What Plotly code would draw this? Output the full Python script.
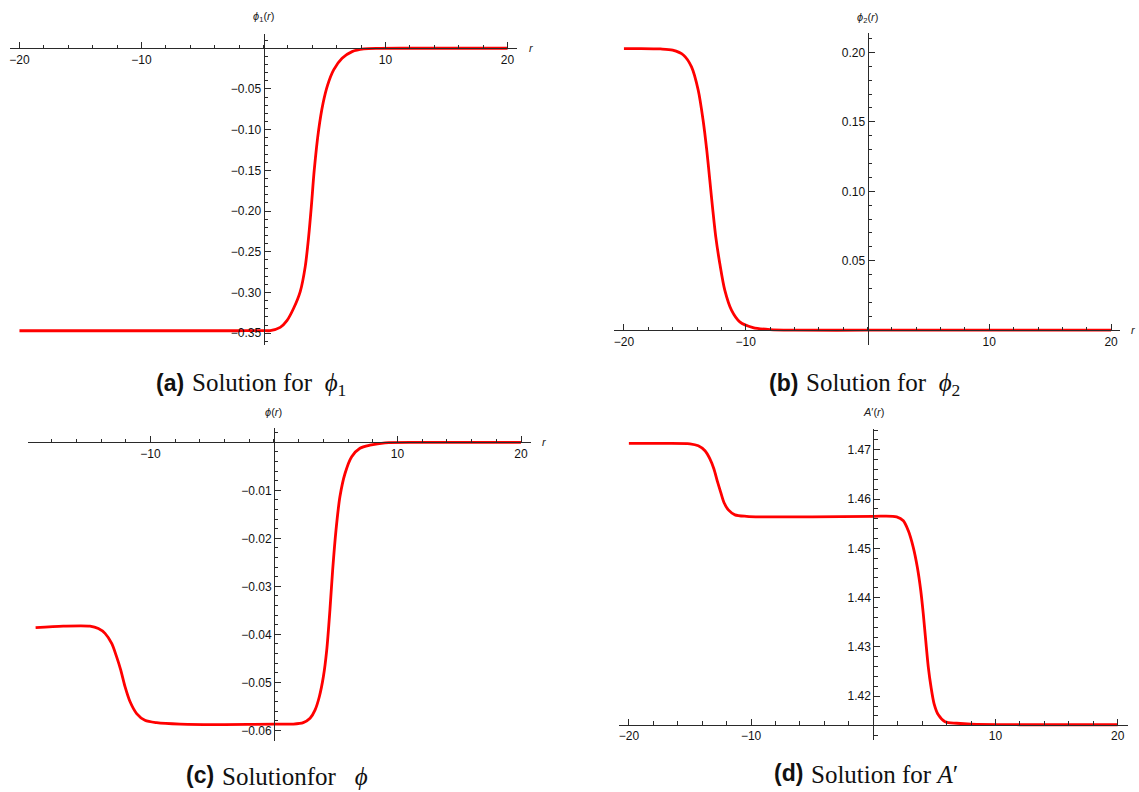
import plotly.graph_objects as go

# ---------------- data ----------------
r_a = [-20, -15, -10, -5, -2, -1, 0, 0.55, 1.37, 1.92, 2.47, 3.01, 3.42, 3.70, 3.92,
       4.16, 4.52, 4.88, 5.26, 5.75, 6.44, 7.26, 8.22, 9.5, 12, 15, 20]
phi1 = [-0.347, -0.347, -0.347, -0.347, -0.3470, -0.3469, -0.3469, -0.3468, -0.3428,
        -0.3346, -0.3194, -0.2989, -0.2682, -0.2314, -0.1945, -0.1495, -0.1003, -0.0676,
        -0.0450, -0.0266, -0.0123, -0.0041, -0.0008, -0.0001, 0, 0, 0]

r_b = [-20, -18.7, -17, -16, -15.1, -14.45, -13.9, -13.5, -13.2, -12.95, -12.73, -12.46,
       -12.13, -11.72, -11.17, -10.49, -9.4, -8.0, -6, 0, 10, 20]
phi2 = [0.2028, 0.2028, 0.2025, 0.2016, 0.1980, 0.1896, 0.1728, 0.1512, 0.1296, 0.1080,
        0.0888, 0.0672, 0.0480, 0.0288, 0.0144, 0.0060, 0.0019, 0.0004, 0.0, 0, 0, 0]

r_c = [-19.3, -17.06, -14.9, -14.22, -13.68, -13.14, -12.74, -12.41, -12.06, -11.66,
       -11.12, -10.45, -9.5, -7.6, -4, 0, 1.57, 2.37, 2.92, 3.32, 3.67, 4.0, 4.27, 4.53,
       4.75, 5.02, 5.34, 5.75, 6.29, 6.96, 7.77, 9, 12, 20]
phi = [-0.0386, -0.0383, -0.0383, -0.0388, -0.0398, -0.0419, -0.0447, -0.0474, -0.0509,
       -0.0540, -0.0565, -0.0579, -0.0584, -0.0587, -0.0588, -0.0587, -0.0587, -0.0584,
       -0.0575, -0.0558, -0.0530, -0.0488, -0.0433, -0.0349, -0.0266, -0.0183, -0.0113,
       -0.0065, -0.0030, -0.00125, -0.0006, -0.0001, 0, 0]

r_d = [-20, -17, -15.0, -14.32, -13.77, -13.36, -13.04, -12.77, -12.49, -12.22, -11.86,
       -11.32, -10.36, -9.27, -5, 0, 1.91, 2.46, 2.86, 3.27, 3.60, 3.88, 4.09, 4.29, 4.50,
       4.72, 4.97, 5.32, 5.87, 6.82, 8, 12, 20]
Aprime = [1.4713, 1.4713, 1.4712, 1.4708, 1.4698, 1.4681, 1.4661, 1.4637, 1.4614, 1.4593,
          1.4578, 1.4568, 1.4565, 1.4564, 1.4564, 1.4565, 1.4564, 1.4556, 1.4536, 1.4502,
          1.4462, 1.4415, 1.4367, 1.4313, 1.4259, 1.4219, 1.4185, 1.4162, 1.4148, 1.4145,
          1.4143, 1.4142, 1.4142]

x_ticks = [-20, -10, 10, 20]
y_ticks_a = [-0.35, -0.30, -0.25, -0.20, -0.15, -0.10, -0.05]
y_ticks_b = [0.05, 0.10, 0.15, 0.20]
y_ticks_c = [-0.06, -0.05, -0.04, -0.03, -0.02, -0.01]
y_ticks_d = [1.42, 1.43, 1.44, 1.45, 1.46, 1.47]

ylabels = ["<i>ϕ</i><sub>1</sub>(<i>r</i>)", "<i>ϕ</i><sub>2</sub>(<i>r</i>)",
           "<i>ϕ</i>(<i>r</i>)", "<i>A</i>′(<i>r</i>)"]
caption_tags = ["(a)", "(b)", "(c)", "(d)"]
caption_texts = ["Solution for\u00a0\u00a0<i>ϕ</i><sub>1</sub>",
                 "Solution for\u00a0\u00a0<i>ϕ</i><sub>2</sub>",
                 "Solutionfor\u00a0\u00a0\u00a0<i>ϕ</i>",
                 "Solution for\u00a0<i>A</i>′"]

# ---------------- layout geometry (pixels) ----------------
W, H = 1139, 792
panels = [
    dict(xr=[-20.8, 20.8], xpx=[9.7, 517.3], yr=[-0.365, 0.018], ypx=[345.4, 33.6],
         ycross=0.0, yt=y_ticks_a, ydt=0.01, ylab_y=17, rlab=True, tag_end=186, cap_y=383),
    dict(xr=[-20.8, 20.7], xpx=[614.2, 1119.6], yr=[-0.0106, 0.214], ypx=[344.9, 33.0],
         ycross=0.0, yt=y_ticks_b, ydt=0.01, ylab_y=18, rlab=True, tag_end=800, cap_y=383),
    dict(xr=[-19.9, 20.8], xpx=[28.2, 530.9], yr=[-0.0622, 0.0029], ypx=[740.9, 428.4],
         ycross=0.0, yt=y_ticks_c, ydt=0.002, ylab_y=412, rlab=True, tag_end=216, cap_y=775),
    dict(xr=[-20.8, 20.8], xpx=[619.1, 1127.5], yr=[1.4111, 1.4743], ypx=[740.0, 428.6],
         ycross=1.4142, yt=y_ticks_d, ydt=0.002, ylab_y=412, rlab=False, tag_end=805, cap_y=773),
]
series = [(r_a, phi1), (r_b, phi2), (r_c, phi), (r_d, Aprime)]

fig = go.Figure()
annotations = []
axis_col = "#2a2a2a"
sans = "Liberation Sans, Arial, sans-serif"
serif = "Liberation Serif, Times New Roman, serif"
tick_font = dict(family=sans, size=12, color="#111111")

for i, p in enumerate(panels):
    n = "" if i == 0 else str(i + 1)
    xs, ys = series[i]
    xd = [p["xpx"][0] / W, p["xpx"][1] / W]
    yd = [1 - p["ypx"][0] / H, 1 - p["ypx"][1] / H]
    x0_frac = xd[0] + (0 - p["xr"][0]) / (p["xr"][1] - p["xr"][0]) * (xd[1] - xd[0])
    y0_frac = yd[0] + (p["ycross"] - p["yr"][0]) / (p["yr"][1] - p["yr"][0]) * (yd[1] - yd[0])

    fig.add_trace(go.Scatter(x=xs, y=ys, mode="lines",
                             line=dict(color="#ff0000", width=2.8, shape="spline", smoothing=0.8),
                             xaxis="x" + n, yaxis="y" + n, showlegend=False, hoverinfo="skip"))

    fig.layout["xaxis" + n] = dict(
        domain=xd, range=p["xr"], anchor="free", position=y0_frac,
        showline=True, linecolor=axis_col, linewidth=1, showgrid=False, zeroline=False,
        ticks="inside", ticklen=6, tickwidth=1, tickcolor=axis_col,
        tickmode="array", tickvals=x_ticks, tickfont=tick_font,
        minor=dict(ticks="inside", ticklen=3.5, tickwidth=1, tickcolor=axis_col,
                   tickmode="linear", tick0=0, dtick=2, showgrid=False),
        fixedrange=True,
    )
    fig.layout["yaxis" + n] = dict(
        domain=yd, range=p["yr"], anchor="free", position=x0_frac,
        showline=True, linecolor=axis_col, linewidth=1, showgrid=False, zeroline=False,
        ticks="inside", ticklen=6, tickwidth=1, tickcolor=axis_col,
        tickmode="array", tickvals=p["yt"], tickformat=".2f", tickfont=tick_font,
        minor=dict(ticks="inside", ticklen=3.5, tickwidth=1, tickcolor=axis_col,
                   tickmode="linear", tick0=0, dtick=p["ydt"], showgrid=False),
        fixedrange=True,
    )

    annotations.append(dict(x=x0_frac, y=1 - p["ylab_y"] / H, xref="paper", yref="paper",
                            text=ylabels[i], showarrow=False, xanchor="center", yanchor="middle",
                            font=dict(family=sans, size=11, color="#222222")))
    if p["rlab"]:
        annotations.append(dict(x=(p["xpx"][1] + 14) / W, y=y0_frac, xref="paper", yref="paper",
                                text="<i>r</i>", showarrow=False, xanchor="center", yanchor="middle",
                                font=dict(family=sans, size=11, color="#222222")))
    annotations.append(dict(x=p["tag_end"] / W, y=1 - p["cap_y"] / H, xref="paper", yref="paper",
                            text="<b>" + caption_tags[i] + "</b>", showarrow=False,
                            xanchor="right", yanchor="middle",
                            font=dict(family=sans, size=23, color="#111111")))
    annotations.append(dict(x=(p["tag_end"] + 4) / W, y=1 - (p["cap_y"] + 1) / H, xref="paper", yref="paper",
                            text=caption_texts[i], showarrow=False,
                            xanchor="left", yanchor="middle",
                            font=dict(family=serif, size=25, color="#111111")))

fig.update_layout(
    width=W, height=H, margin=dict(l=0, r=0, t=0, b=0),
    paper_bgcolor="white", plot_bgcolor="white",
    annotations=annotations, showlegend=False,
)

fig.write_html("out.html", config={"displayModeBar": False},
               post_script="document.body.style.margin='0';document.body.style.overflow='hidden';")
